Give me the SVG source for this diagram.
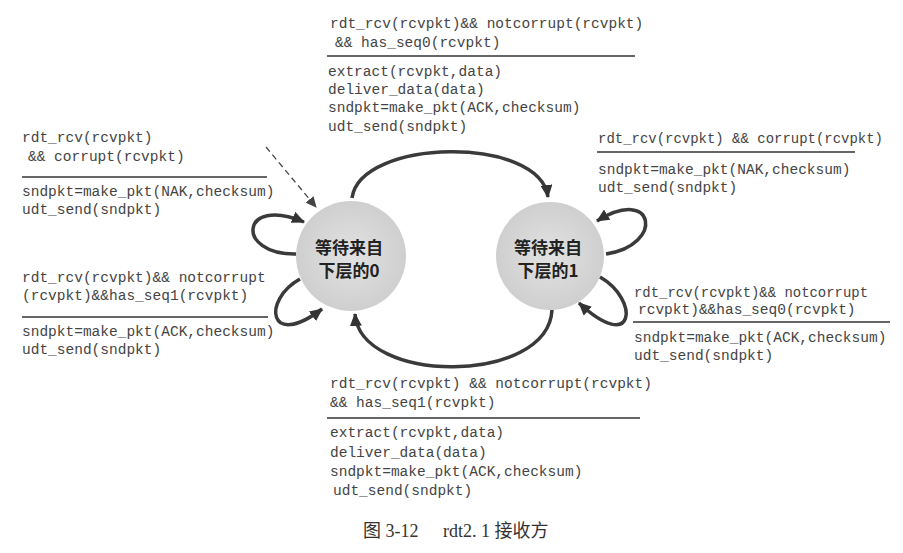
<svg xmlns="http://www.w3.org/2000/svg" width="903" height="553" viewBox="0 0 903 553">
<style>
.t{font-family:"Liberation Mono","Courier New",monospace;font-size:14.5px;fill:#444}
.rule{stroke:#333;stroke-width:1.5}
.arc{fill:none;stroke:#3a3a3a;stroke-width:3.5}
.dash{fill:none;stroke:#444;stroke-width:1.3;stroke-dasharray:6 4}
.st{font-family:"Noto Sans CJK SC","Noto Sans",sans-serif;font-weight:bold;font-size:17px;fill:#222;text-anchor:middle}
.cap{font-family:"Liberation Serif","Noto Sans CJK SC",serif;font-size:18px;fill:#333}
</style>
<defs>
<radialGradient id="g" cx="0.5" cy="0.5" r="0.5">
<stop offset="0" stop-color="#e2e2e2"/>
<stop offset="1" stop-color="#cfcfcf"/>
</radialGradient>
<marker id="ah" markerUnits="userSpaceOnUse" markerWidth="14" markerHeight="12" refX="12" refY="6" orient="auto">
<path d="M0,0 L13,6 L0,12 z" fill="#333"/>
</marker>
<marker id="ahs" markerUnits="userSpaceOnUse" markerWidth="12" markerHeight="10" refX="10" refY="5" orient="auto">
<path d="M0,0 L11,5 L0,10 z" fill="#444"/>
</marker>
</defs>
<rect width="903" height="553" fill="#fff"/>

<g id="node-wait0">
<circle cx="351" cy="256" r="55" fill="url(#g)"/>
<text class="st" x="349" y="254">等待来自</text>
<text class="st" x="349" y="277">下层的0</text>
</g>
<g id="node-wait1">
<circle cx="550" cy="256" r="54" fill="url(#g)"/>
<text class="st" x="548" y="254">等待来自</text>
<text class="st" x="548" y="277">下层的1</text>
</g>

<g id="connectors">
<path class="dash" d="M266,147 L316,207" marker-end="url(#ahs)"/>
<path class="arc" d="M352,198 C360,138 540,135 548,197" marker-end="url(#ah)"/>
<path class="arc" d="M552,310 C548,385 360,385 355,314" marker-end="url(#ah)"/>
<path class="arc" d="M296,254 C235,255 240,195 304,222" marker-end="url(#ah)"/>
<path class="arc" d="M300,279 C262,300 268,350 322,309" marker-end="url(#ah)"/>
<path class="arc" d="M606,254 C665,245 655,185 597,221" marker-end="url(#ah)"/>
<path class="arc" d="M600,277 C640,300 635,355 579,303" marker-end="url(#ah)"/>
</g>

<g id="label-top">
<text class="t" x="330" y="28">rdt_rcv(rcvpkt)&amp;&amp; notcorrupt(rcvpkt)</text>
<text class="t" x="335" y="47">&amp;&amp; has_seq0(rcvpkt)</text>
<line class="rule" x1="327" y1="56" x2="635" y2="56"/>
<text class="t" x="328" y="76">extract(rcvpkt,data)</text>
<text class="t" x="328" y="94">deliver_data(data)</text>
<text class="t" x="328" y="112">sndpkt=make_pkt(ACK,checksum)</text>
<text class="t" x="328" y="131">udt_send(sndpkt)</text>
</g>

<g id="label-left-top">
<text class="t" x="22" y="142">rdt_rcv(rcvpkt)</text>
<text class="t" x="28" y="161">&amp;&amp; corrupt(rcvpkt)</text>
<line class="rule" x1="22" y1="177" x2="267" y2="177"/>
<text class="t" x="22" y="196">sndpkt=make_pkt(NAK,checksum)</text>
<text class="t" x="22" y="214">udt_send(sndpkt)</text>
</g>

<g id="label-left-bottom">
<text class="t" x="22" y="282">rdt_rcv(rcvpkt)&amp;&amp; notcorrupt</text>
<text class="t" x="22" y="300">(rcvpkt)&amp;&amp;has_seq1(rcvpkt)</text>
<line class="rule" x1="22" y1="317" x2="268" y2="317"/>
<text class="t" x="22" y="336">sndpkt=make_pkt(ACK,checksum)</text>
<text class="t" x="22" y="354">udt_send(sndpkt)</text>
</g>

<g id="label-right-top">
<text class="t" x="598" y="143" textLength="285" lengthAdjust="spacingAndGlyphs">rdt_rcv(rcvpkt) &amp;&amp; corrupt(rcvpkt)</text>
<line class="rule" x1="597" y1="152" x2="855" y2="152"/>
<text class="t" x="598" y="174">sndpkt=make_pkt(NAK,checksum)</text>
<text class="t" x="598" y="192">udt_send(sndpkt)</text>
</g>

<g id="label-right-bottom">
<text class="t" x="634" y="297" textLength="234" lengthAdjust="spacingAndGlyphs">rdt_rcv(rcvpkt)&amp;&amp; notcorrupt</text>
<text class="t" x="638" y="314">rcvpkt)&amp;&amp;has_seq0(rcvpkt)</text>
<line class="rule" x1="633" y1="322" x2="890" y2="322"/>
<text class="t" x="634" y="342">sndpkt=make_pkt(ACK,checksum)</text>
<text class="t" x="634" y="360">udt_send(sndpkt)</text>
</g>

<g id="label-bottom">
<text class="t" x="330" y="388">rdt_rcv(rcvpkt) &amp;&amp; notcorrupt(rcvpkt)</text>
<text class="t" x="330" y="407">&amp;&amp; has_seq1(rcvpkt)</text>
<line class="rule" x1="327" y1="418" x2="640" y2="418"/>
<text class="t" x="330" y="437">extract(rcvpkt,data)</text>
<text class="t" x="330" y="457">deliver_data(data)</text>
<text class="t" x="330" y="476">sndpkt=make_pkt(ACK,checksum)</text>
<text class="t" x="333" y="495">udt_send(sndpkt)</text>
</g>

<text class="cap" x="363" y="537">图 3-12</text>
<text class="cap" x="443" y="537">rdt2. 1 接收方</text>
</svg>
